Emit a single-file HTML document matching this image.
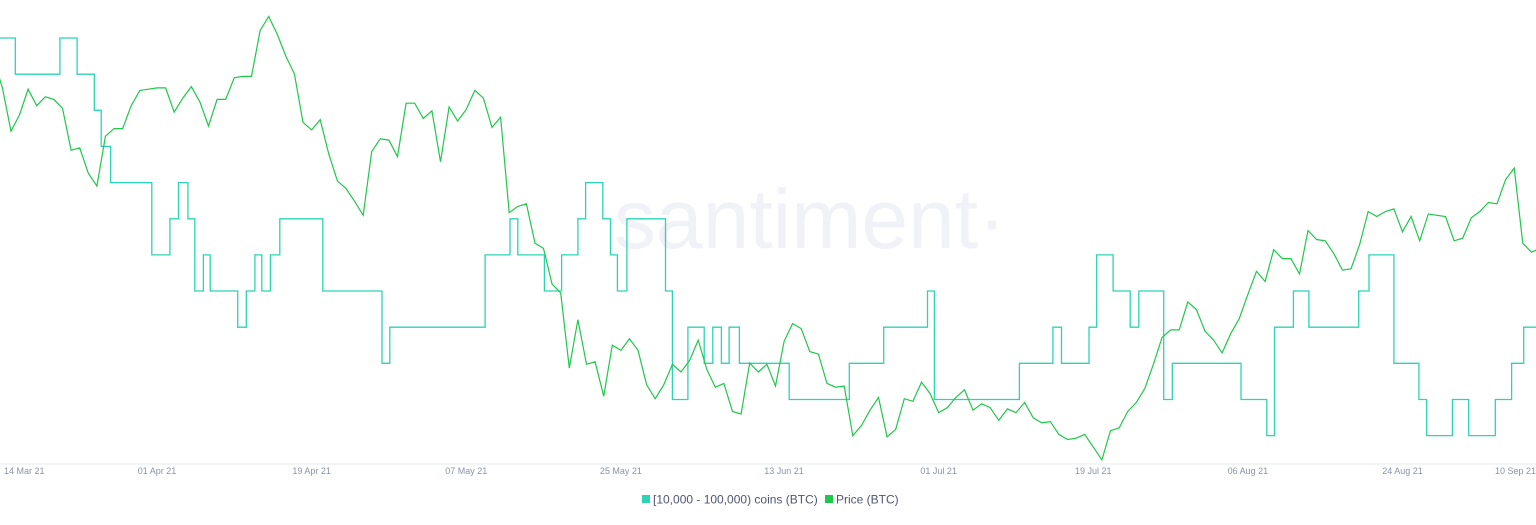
<!DOCTYPE html>
<html><head><meta charset="utf-8"><style>
html,body{margin:0;padding:0;background:#fff;}
body{width:1536px;height:520px;overflow:hidden;font-family:"Liberation Sans",sans-serif;}
svg text{font-family:"Liberation Sans",sans-serif;}
</style></head><body>
<svg id="chart" width="1536" height="520" viewBox="0 0 1536 520" xmlns="http://www.w3.org/2000/svg">
<text x="810" y="248" font-size="84" fill="#f1f2f7" text-anchor="middle">santiment·</text>
<line x1="0" y1="464" x2="1536" y2="464" stroke="#e6e8ee"/>
<g id="xticks"></g>
<path id="holders" fill="none" stroke="#2bd4b4" stroke-width="1.3"/>
<path id="price" fill="none" stroke="#1ec84a" stroke-width="1.2"/>
<g>
<rect x="642" y="495" width="8" height="8" fill="#2bd4b4"/>
<text x="653" y="503.5" font-size="12" fill="#505573">[10,000 - 100,000) coins (BTC)</text>
<rect x="825" y="495" width="8" height="8" fill="#1ec84a"/>
<text x="836" y="503.5" font-size="12" fill="#505573">Price (BTC)</text>
</g>
</svg>
<script>
// Day offsets from 11 Mar 2021
const tickLabels = ["14 Mar 21","01 Apr 21","19 Apr 21","07 May 21","25 May 21","13 Jun 21","01 Jul 21","19 Jul 21","06 Aug 21","24 Aug 21","10 Sep 21"];
const tickDays = [3,21,39,57,75,94,112,130,148,166,183];
// Daily BTC price (thousand USD), 11 Mar – 10 Sep 2021
const prices = [57.3,57.2,61.2,59.0,55.6,56.9,58.9,57.6,58.3,58.1,57.4,54.1,54.3,52.3,51.3,55.2,55.8,55.8,57.6,58.8,58.9,
59.0,59.0,57.1,58.2,59.1,57.9,56.0,58.1,58.1,59.8,59.9,59.9,63.5,64.6,63.2,61.5,60.1,56.3,55.7,56.5,53.8,51.7,51.1,50.1,49.0,54.0,55.0,54.9,53.6,57.8,
57.8,56.6,57.2,53.2,57.5,56.4,57.3,58.8,58.2,55.9,56.7,49.2,49.7,49.9,46.8,46.4,43.6,42.9,37.0,40.8,37.3,37.5,34.8,38.8,38.4,39.3,38.4,35.7,34.6,35.7,37.3,
36.7,37.6,39.2,36.9,35.5,35.8,33.6,33.4,37.4,36.7,37.3,35.6,39.1,40.5,40.1,38.3,38.1,35.8,35.5,35.6,31.7,32.5,33.7,34.7,31.6,32.2,34.6,34.4,35.9,35.0,
33.5,33.9,34.7,35.3,33.7,34.2,33.9,32.9,33.8,33.5,34.3,33.1,32.7,32.8,31.8,31.4,31.5,31.8,30.8,29.8,32.1,32.3,33.6,34.3,35.4,37.3,39.4,40.0,40.0,42.2,41.6,
39.9,39.2,38.2,39.7,40.9,42.8,44.6,43.8,46.3,45.6,45.6,44.4,47.8,47.1,47.0,46.0,44.7,44.8,46.7,49.3,48.9,49.3,49.5,47.7,48.9,47.0,49.1,49.0,48.9,47.0,47.2,
48.8,49.3,50.0,49.9,51.8,52.7,46.8,46.1,46.4,44.9];
// Holder count step changes (day offsets from 11 Mar)
const stepDays = [0,4.5,9.7,11.7,13.7,14.5,15.6,20.4,22.5,23.5,24.6,25.4,26.4,27.2,30.4,31.4,32.4,33.2,34.2,35.3,40.3,47.2,48.1,59.2,62.1,63.0,66.1,68.1,70.0,70.9,72.9,73.8,74.6,75.7,80.2,81.0,82.8,84.7,85.7,86.7,87.6,88.8,94.6,101.6,105.6,110.7,111.5,121.4,125.3,126.3,129.5,130.4,132.3,134.3,135.3,138.2,139.2,147.2,150.2,151.1,153.3,155.1,160.9,162.1,163.2,165.0,167.9,168.8,171.8,173.7,176.8,178.7,180.1];
const stepValues = [112,111,112,111,110,109,108,106,107,108,107,105,106,105,104,105,106,105,106,107,105,103,104,106,107,106,105,106,107,108,107,106,105,107,105,102,104,103,104,103,104,103,102,103,104,105,102,103,104,103,104,106,105,104,105,102,103,102,101,104,105,104,105,106,106,103,102,101,102,101,102,103,104];

const X = d => -23.4 + d * 8.59;
const YP = p => 14 + (64.8 - p) / 0.0785;
const YH = c => 38 + (112 - c) * 36.15;

const ns = "http://www.w3.org/2000/svg";
const tg = document.getElementById("xticks");
tickLabels.forEach((t, i) => {
  const el = document.createElementNS(ns, "text");
  
  
  let x = X(tickDays[i]), anchor = "middle";
  if (i === 0) { x = 4; anchor = "start"; }
  if (i === tickLabels.length - 1) { x = 1536; anchor = "end"; }
  el.setAttribute("x", x);
  el.setAttribute("y", 474);
  el.setAttribute("font-size", "9");
  el.setAttribute("fill", "#8a92a8");
  el.setAttribute("text-anchor", anchor);
  el.textContent = t;
  tg.appendChild(el);
});

let d = "";
prices.forEach((p, i) => { d += (i ? "L" : "M") + X(i).toFixed(1) + "," + YP(p).toFixed(1); });
document.getElementById("price").setAttribute("d", d);

let h = "";
stepValues.forEach((v, i) => {
  const x = X(stepDays[i]), y = YH(v);
  h += i ? "H" + x.toFixed(1) + "V" + y.toFixed(1) : "M" + Math.max(0, x).toFixed(1) + "," + y.toFixed(1);
});
h += "H1536";
document.getElementById("holders").setAttribute("d", h);
</script>
</body></html>
